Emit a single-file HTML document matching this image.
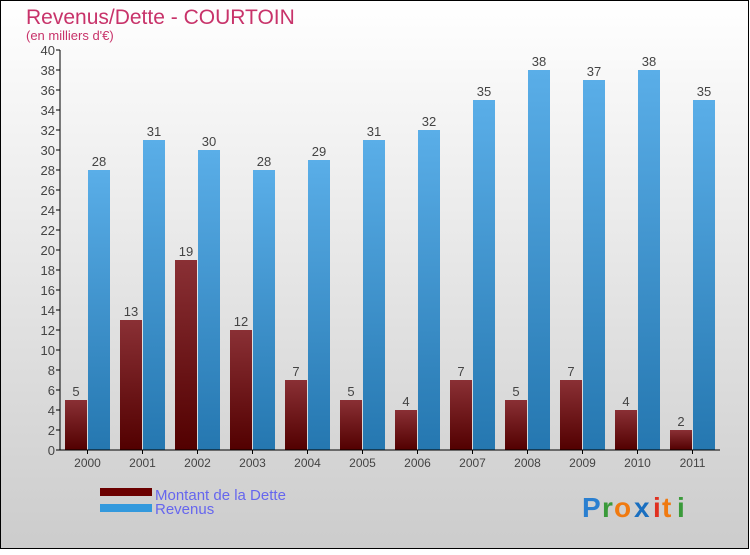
<!DOCTYPE html>
<html><head><meta charset="utf-8"><style>
body{margin:0;width:750px;height:550px;overflow:hidden;font-family:"Liberation Sans",sans-serif}
</style></head><body>
<svg width="750" height="550" xmlns="http://www.w3.org/2000/svg" id="chart">
<defs>
<linearGradient id="bg" x1="0" y1="0" x2="0" y2="1"><stop offset="0" stop-color="#ffffff"/><stop offset="1" stop-color="#cccccc"/></linearGradient>
<linearGradient id="red" x1="0" y1="0" x2="0" y2="1"><stop offset="0" stop-color="#8a3035"/><stop offset="1" stop-color="#520000"/></linearGradient>
<linearGradient id="blue" x1="0" y1="0" x2="0" y2="1"><stop offset="0" stop-color="#5aaee8"/><stop offset="1" stop-color="#2577b0"/></linearGradient>
</defs>
<rect x="0.5" y="0.5" width="748" height="548" fill="url(#bg)" stroke="#000"/>
<text x="26" y="24" font-size="21" fill="#c8336a">Revenus/Dette - COURTOIN</text>
<text x="26" y="40" font-size="13" fill="#c8336a">(en milliers d'€)</text>
<g id="plot"></g>
<rect x="100" y="488" width="52" height="8" fill="#6b0000"/>
<text x="155" y="500" font-size="15" fill="#6666ee">Montant de la Dette</text>
<rect x="100" y="504" width="52" height="8" fill="#3399dd"/>
<text x="155" y="514" font-size="15" fill="#6666ee">Revenus</text>
<g font-size="28" font-weight="bold">
<text x="582" y="517" fill="#2a7fd0">P</text><text x="602" y="517" fill="#3a9a3a">r</text><text x="614" y="517" fill="#f07a10">o</text><text x="634" y="517" fill="#1a6fc0">x</text><text x="653" y="517" fill="#e03020">i</text><text x="662" y="517" fill="#f07a10">t</text><text x="677" y="517" fill="#3a9a3a">i</text>
</g>
</svg>
<script>
const years=["2000","2001","2002","2003","2004","2005","2006","2007","2008","2009","2010","2011"];
const dette=[5,13,19,12,7,5,4,7,5,7,4,2];
const revenus=[28,31,30,28,29,31,32,35,38,37,38,35];
const yTicks=[0,2,4,6,8,10,12,14,16,18,20,22,24,26,28,30,32,34,36,38,40];
const NS="http://www.w3.org/2000/svg";
const g=document.getElementById('plot');
const x0=60,x1=720,yb=450,yt=50,ymax=40;
const gw=(x1-x0)/years.length;
function y(v){return yb-(v/ymax)*(yb-yt);}
function el(t,a,p){const e=document.createElementNS(NS,t);for(const k in a)e.setAttribute(k,a[k]);(p||g).appendChild(e);return e;}
yTicks.forEach(v=>{
 const l=el('line',{x1:x0-4,x2:x0,y1:y(v),y2:y(v),stroke:'#000'});
 
 
 const t=el('text',{x:x0-5,y:y(v)+5,'text-anchor':'end','font-size':'13',fill:'#444'});
 t.textContent=v;
 
 
});
years.forEach((yr,i)=>{
 const gx=x0+i*gw;
 const r=el('rect',{x:gx+5,y:y(dette[i]),width:22,height:yb-y(dette[i]),fill:'url(#red)'});
 
 
 const b=el('rect',{x:gx+28,y:y(revenus[i]),width:22,height:yb-y(revenus[i]),fill:'url(#blue)'});
 
 
 const t1=el('text',{x:gx+16,y:y(dette[i])-4,'text-anchor':'middle','font-size':'13',fill:'#444'});
 t1.textContent=dette[i];
 
 
 const t2=el('text',{x:gx+39,y:y(revenus[i])-4,'text-anchor':'middle','font-size':'13',fill:'#444'});
 t2.textContent=revenus[i];
 
 
 const tk=el('line',{x1:gx+27.5,x2:gx+27.5,y1:yb,y2:yb+4,stroke:'#000'});
 
 
 const xl=el('text',{x:gx+27.5,y:yb+17,'text-anchor':'middle','font-size':'12',fill:'#444'});
 xl.textContent=yr;
 
 
});
const ya=el('line',{x1:x0,x2:x0,y1:yt,y2:yb,stroke:'#000'});


const xa=el('line',{x1:x0-4,x2:x1,y1:yb,y2:yb,stroke:'#000'});


</script>
</body></html>
